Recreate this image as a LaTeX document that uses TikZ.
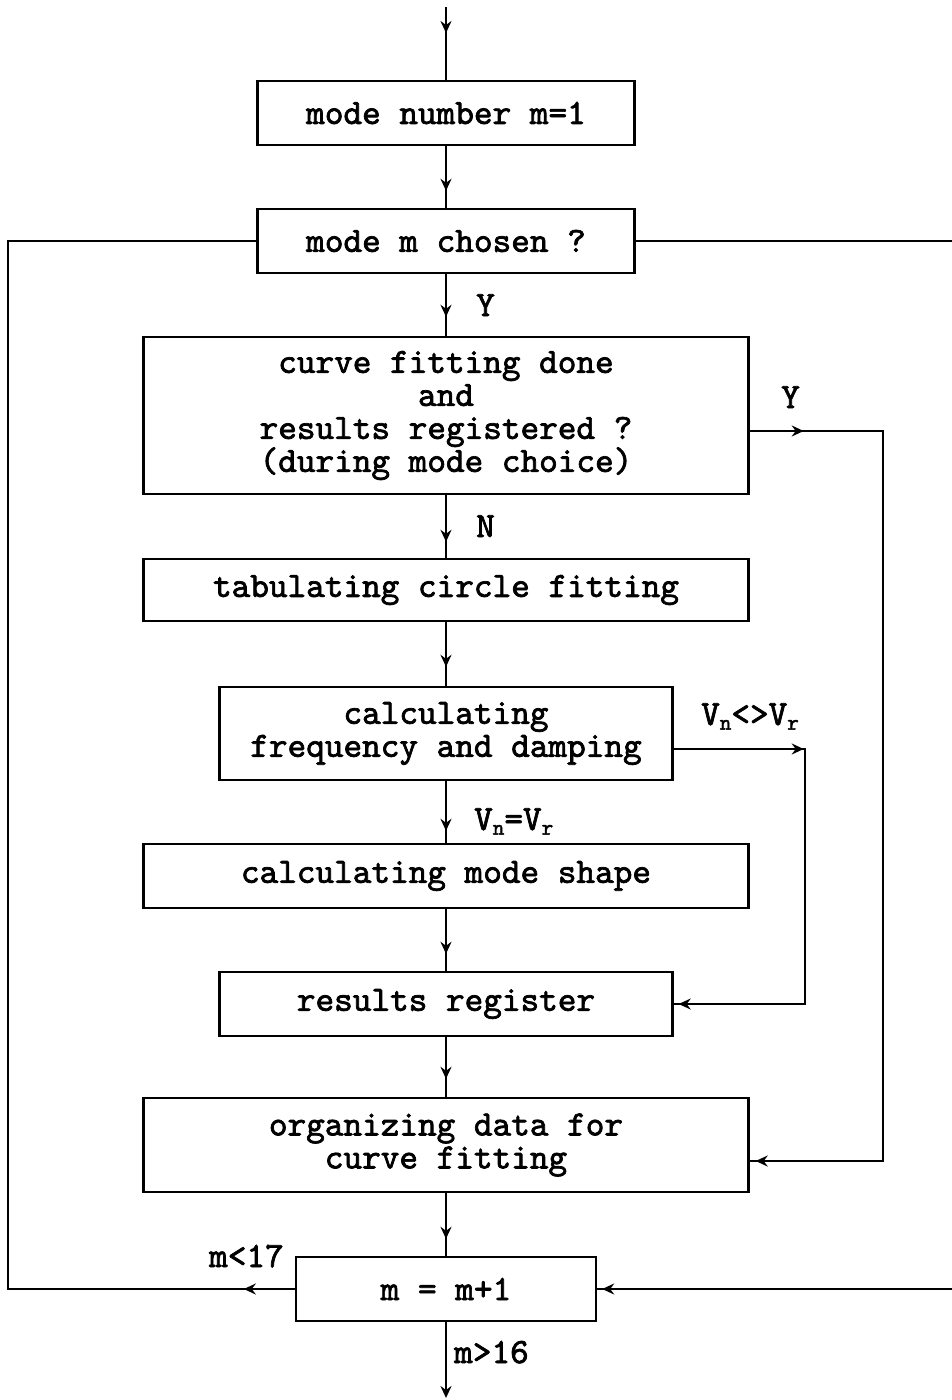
\documentclass[tikz,border=0pt]{standalone}
\usepackage{fontspec}
\setmonofont{lmmono10-regular.otf}[FakeBold=2]
\usetikzlibrary{arrows.meta,decorations.markings}

% lowered small letter for the V_n / V_r labels
\newcommand{\lowsub}[1]{\raisebox{-0.3ex}{\fontsize{22}{22}\selectfont #1}}

\begin{document}
\begin{tikzpicture}[
  x=1pt, y=-1pt,
  every node/.style={font=\ttfamily\fontsize{35.5}{33}\selectfont},
  >={Stealth[length=12pt,width=11pt,inset=4pt]},
  boxnode/.style={draw, line width=2.4pt, inner sep=0pt, align=center},
  flowline/.style={line width=2pt},
  tipat/.style={postaction={decorate, decoration={markings,
      mark=at position #1 with {\arrow{>}}}}},
  lbl/.style={inner sep=0pt, anchor=base west}
]
\useasboundingbox (0,0) rectangle (952,1400);

% process boxes
\node[boxnode, minimum width=377pt, minimum height=64pt] (b1) at (446,113) {mode number m=1};
\node[boxnode, minimum width=377pt, minimum height=64pt] (b2) at (446,241) {mode m chosen ?};
\node[boxnode, minimum width=605pt, minimum height=157pt] (b3) at (446,415.5)
  {curve fitting done\\and\\results registered ?\\(during mode choice)};
\node[boxnode, minimum width=605pt, minimum height=62pt] (b4) at (446,590) {tabulating circle fitting};
\node[boxnode, minimum width=453pt, minimum height=93pt] (b5) at (446,733.5)
  {calculating\\frequency and damping};
\node[boxnode, minimum width=605pt, minimum height=64pt] (b6) at (446,876) {calculating mode shape};
\node[boxnode, minimum width=453pt, minimum height=64pt] (b7) at (446,1004) {results register};
\node[boxnode, minimum width=605pt, minimum height=94pt] (b8) at (446,1145)
  {organizing data for\\curve fitting};
\node[boxnode, minimum width=300pt, minimum height=64pt] (b9) at (446,1289) {m = m+1};

% free ends and corners of the connectors
\coordinate (in)  at (446,7);
\coordinate (out) at (446,1398);
\coordinate (ll1) at (8,1289);
\coordinate (ll2) at (8,241);
\coordinate (rr1) at (962,241);
\coordinate (rr2) at (962,1289);
\coordinate (ya)  at (883,431);
\coordinate (yb)  at (883,1161);
\coordinate (va)  at (805,749);
\coordinate (vb)  at (805,1004);

% main downward flow
\draw[flowline, tipat=26pt]  (in) -- (b1);
\draw[flowline, tipat=-17pt] (b1) -- (b2);
\draw[flowline, tipat=-19pt] (b2) -- (b3);
\draw[flowline, tipat=-16pt] (b3) -- (b4);
\draw[flowline, tipat=-19pt] (b4) -- (b5);
\draw[flowline, tipat=-12pt] (b5) -- (b6);
\draw[flowline, tipat=-17pt] (b6) -- (b7);
\draw[flowline, tipat=-18pt] (b7) -- (b8);
\draw[flowline, tipat=-17pt] (b8) -- (b9);
\draw[flowline, ->] (b9) -- (out);

% branches
\draw[flowline, tipat=54pt, tipat=-6pt] ([yshift=-15.5pt]b3.east) -- (ya) -- (yb) -- ([yshift=-16pt]b8.east);
\draw[flowline, tipat=130pt, tipat=-5pt] ([yshift=-15.5pt]b5.east) -- (va) -- (vb) -- (b7.east);
\draw[flowline, tipat=51pt] (b9.west) -- (ll1) -- (ll2) -- (b2.west);
\draw[flowline, tipat=-5pt] (b2.east) -- (rr1) -- (rr2) -- (b9.east);

% branch labels
\node[lbl] (ly1) at (476,316) {Y};
\node[lbl] (ly2) at (781,408) {Y};
\node[lbl] (ln)  at (476,537) {N};
\node[lbl] (lne) at (701,725) {V\lowsub{n}<>V\lowsub{r}};
\node[lbl] (leq) at (474,830) {V\lowsub{n}=V\lowsub{r}};
\node[lbl] (llt) at (209,1267) {m<17};
\node[lbl] (lgt) at (454,1363) {m>16};
\end{tikzpicture}
\end{document}
